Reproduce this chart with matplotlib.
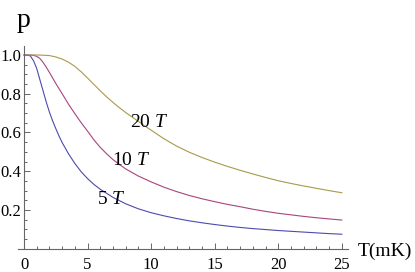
import matplotlib.pyplot as plt
from matplotlib.ticker import MultipleLocator

plt.rcParams['font.family'] = ['Liberation Serif', 'DejaVu Serif']
plt.rcParams['mathtext.fontset'] = 'custom'
plt.rcParams['mathtext.it'] = 'Liberation Serif:italic'

# values
t_5 = [0, 0.25, 0.5, 0.75, 1, 1.25, 1.5, 1.75, 2, 2.25, 2.5, 2.75, 3, 3.5, 4, 4.5,
       5, 5.5, 6, 7, 8, 9, 10, 11, 12, 13, 14, 15, 16, 17, 18, 19, 20, 21, 22, 23, 24, 25]
p_5 = [1.0, 1.0, 0.995, 0.97, 0.93, 0.872, 0.815, 0.757, 0.705, 0.66, 0.62, 0.582,
       0.548, 0.49, 0.44, 0.397, 0.362, 0.332, 0.307, 0.265, 0.232, 0.206, 0.186,
       0.17, 0.156, 0.144, 0.134, 0.125, 0.117, 0.11, 0.104, 0.099, 0.094, 0.09,
       0.086, 0.082, 0.078, 0.075]

t_10 = [0, 0.5, 0.75, 1, 1.25, 1.5, 1.75, 2, 2.5, 3, 3.5, 4, 4.5, 5, 5.5, 6, 6.5, 7, 7.5,
        8, 9, 10, 11, 12, 13, 14, 15, 16, 17, 18, 19, 20, 21, 22, 23, 24, 25]
p_10 = [1.0, 1.0, 0.998, 0.993, 0.982, 0.962, 0.937, 0.91, 0.853, 0.8, 0.746, 0.697,
        0.65, 0.607, 0.562, 0.523, 0.49, 0.46, 0.435, 0.412, 0.375, 0.345, 0.318,
        0.295, 0.275, 0.258, 0.243, 0.229, 0.217, 0.204, 0.193, 0.183, 0.175,
        0.167, 0.16, 0.154, 0.148]

t_20 = [0, 1, 1.5, 2, 2.5, 3, 3.5, 4, 4.5, 5, 5.5, 6, 6.5, 7, 7.5, 8, 8.5, 9, 9.5,
        10, 11, 12, 13, 14, 15, 16, 17, 18, 19, 20, 21, 22, 23, 24, 25]
p_20 = [1.0, 1.0, 0.999, 0.997, 0.99, 0.979, 0.963, 0.941, 0.913, 0.881, 0.848,
        0.815, 0.784, 0.755, 0.728, 0.703, 0.68, 0.657, 0.634, 0.612, 0.568, 0.53,
        0.498, 0.471, 0.447, 0.425, 0.405, 0.386, 0.368, 0.351, 0.337, 0.324,
        0.312, 0.3, 0.289]

x_ticks = [0, 5, 10, 15, 20, 25]
y_ticks = [0.2, 0.4, 0.6, 0.8, 1.0]

fig = plt.figure(figsize=(4.15, 2.72), dpi=100)
ax = fig.add_axes([0.0441, 0.0855, 0.7933, 0.7465])

ax.plot(t_5, p_5, color='#4b4bb0', lw=0.8)
ax.plot(t_10, p_10, color='#a8447e', lw=0.8)
ax.plot(t_20, p_20, color='#a89a4c', lw=0.8)

ax.text(5.72, 0.231, '5 $T$', fontsize=14)
ax.text(6.9, 0.432, '10 $T$', fontsize=14)
ax.text(8.33, 0.63, '20 $T$', fontsize=14)

ax.set_xlim(-0.45, 25.45)
ax.set_ylim(0, 1.048)

for s in ['top', 'right']:
    ax.spines[s].set_visible(False)
ax.spines['left'].set_position(('data', 0))
for s in ['left', 'bottom']:
    ax.spines[s].set_color('#666666')
    ax.spines[s].set_linewidth(0.8)

ax.set_xticks(x_ticks)
ax.set_xticklabels([str(v) for v in x_ticks])
ax.set_yticks(y_ticks)
ax.set_yticklabels(['%.1f' % v for v in y_ticks])
ax.xaxis.set_minor_locator(MultipleLocator(1))
ax.yaxis.set_minor_locator(MultipleLocator(0.05))
ax.tick_params(which='both', direction='in', color='#666666', width=0.7, labelsize=12)
ax.tick_params(which='major', length=4)
ax.tick_params(which='minor', length=2)
ax.tick_params(axis='x', pad=6)
ax.tick_params(axis='y', pad=2)

fig.text(16.5 / 415, 1 - 26.7 / 272, 'p', fontsize=20, va='baseline')
fig.text(358 / 415, 1 - 256 / 272, 'T(mK)', fontsize=14, va='baseline')

plt.savefig('out.png', dpi=100)
